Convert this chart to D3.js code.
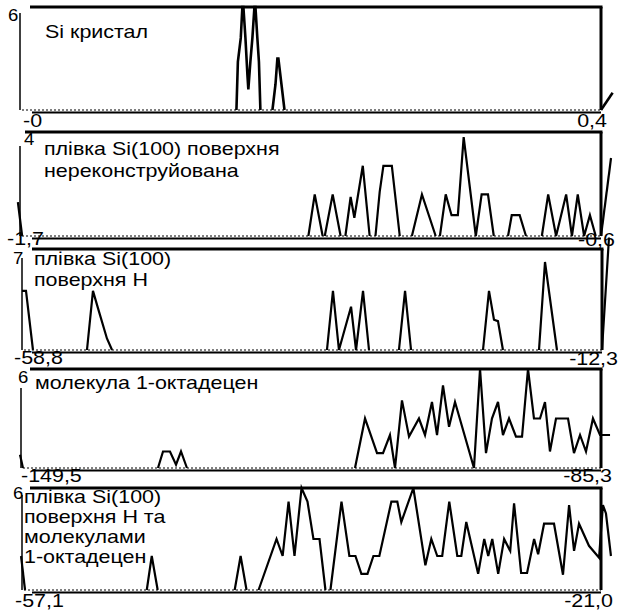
<!DOCTYPE html>
<html>
<head>
<meta charset="utf-8">
<script src="https://cdn.jsdelivr.net/npm/d3@7/dist/d3.min.js"></script>
<style>
  body { margin: 0; background: #fff; }
  svg { display: block; }
  text { font-family: "Liberation Sans", Arial, sans-serif; fill: #000; }
</style>
</head>
<body>
<div id="chart"></div>
<script>
// spectra, one [energy, count] list per panel
const siCrystal = [
  [0, 0], [0.149, 0], [0.150, 2.8], [0.152, 4.2], [0.1531, 6], [0.1538, 6], [0.1552, 4.2],
  [0.1566, 2], [0.1572, 1.2], [0.1586, 2.8], [0.160, 4.2], [0.1614, 6], [0.1621, 6],
  [0.1634, 4.2], [0.1645, 2.8], [0.1655, 0], [0.1738, 0], [0.1759, 1.5], [0.1772, 3],
  [0.1779, 3], [0.180, 1.5], [0.1821, 0], [0.4, 0], [0.408, 1.0]
];
const filmBare = [
  [-1.704, 1.3], [-1.696, 0], [-1.154, 0], [-1.142, 1.6], [-1.127, 0], [-1.123, 0],
  [-1.108, 1.6], [-1.093, 0], [-1.084, 0], [-1.074, 1.5], [-1.067, 0.7], [-1.051, 2.7],
  [-1.038, 0], [-1.027, 0], [-1.019, 1.7], [-1.012, 2.7], [-0.996, 2.7], [-0.981, 0],
  [-0.958, 0], [-0.939, 1.6], [-0.913, 0], [-0.905, 0], [-0.894, 1.6], [-0.883, 0.8],
  [-0.871, 0.8], [-0.860, 3.8], [-0.837, 0], [-0.826, 1.6], [-0.814, 1.6], [-0.803, 0],
  [-0.776, 0], [-0.769, 0.8], [-0.754, 0.8], [-0.742, 0], [-0.712, 0], [-0.700, 1.6],
  [-0.685, 0], [-0.666, 1.6], [-0.655, 0], [-0.644, 1.6], [-0.632, 0], [-0.621, 0.8],
  [-0.610, 0], [-0.600, 0], [-0.581, 3.0]
];
const filmH = [
  [-58.8, 4.1], [-58.48, 4.1], [-57.92, 0], [-53.59, 0], [-53.11, 4.1], [-52.71, 2.9],
  [-51.99, 0.8], [-51.58, 0], [-34.35, 0], [-33.87, 4.1], [-33.39, 0], [-32.42, 3.0],
  [-32.02, 0], [-31.46, 4.1], [-30.98, 0], [-28.58, 0], [-28.09, 4.1], [-27.61, 0],
  [-21.84, 0], [-21.36, 4.1], [-20.96, 2.1], [-20.64, 2.0], [-20.24, 0], [-17.35, 0],
  [-16.87, 6.1], [-15.91, 0], [-12.3, 0], [-11.74, 7.8]
];
const octadecene = [
  [-149.61, 0.8], [-149.28, 0], [-134.34, 0], [-133.78, 1.0], [-133.01, 1.0], [-132.34, 0.2],
  [-131.79, 1.0], [-131.13, 0], [-112.53, 0], [-111.42, 3.0], [-110.09, 0.9], [-109.43, 0.9],
  [-108.66, 2.0], [-108.10, 0], [-107.33, 4.1], [-106.55, 1.9], [-105.45, 3.0], [-104.78, 2.0],
  [-104.01, 4.0], [-103.45, 2.0], [-102.79, 5.0], [-102.12, 2.5], [-101.46, 4.0], [-99.36, 0],
  [-98.69, 6.0], [-98.03, 0.9], [-97.37, 3.0], [-96.70, 4.0], [-96.15, 2.0], [-95.48, 3.0],
  [-94.71, 1.9], [-94.04, 1.9], [-93.38, 6.0], [-92.72, 3.0], [-92.05, 3.0], [-91.50, 4.0],
  [-90.95, 1.0], [-90.28, 3.0], [-88.95, 3.0], [-88.29, 0.9], [-87.62, 2.0], [-86.96, 1.0],
  [-86.19, 3.0], [-85.41, 2.0], [-84.30, 2.0]
];
const filmHOctadecene = [
  [-57.16, 2.0], [-56.91, 0], [-49.32, 0], [-49.01, 2.0], [-48.64, 0], [-43.84, 0],
  [-43.47, 2.0], [-43.10, 0], [-42.35, 0], [-41.23, 3.0], [-40.85, 2.0], [-40.48, 5.2],
  [-40.11, 2.0], [-39.67, 6.0], [-39.30, 5.2], [-38.93, 3.0], [-38.55, 3.0], [-38.18, 0],
  [-37.87, 0], [-37.18, 5.2], [-36.69, 2.0], [-36.31, 2.0], [-35.94, 0.95], [-35.56, 0.95],
  [-35.19, 2.0], [-34.82, 2.0], [-34.07, 5.2], [-33.70, 5.2], [-33.45, 4.0], [-32.70, 6.0],
  [-31.95, 1.45], [-31.58, 3.0], [-31.21, 2.0], [-30.90, 2.0], [-30.46, 5.2], [-29.96, 2.0],
  [-29.71, 2.0], [-29.40, 4.0], [-28.66, 0.95], [-28.28, 3.0], [-28.03, 2.0], [-27.78, 3.0],
  [-27.41, 0.95], [-27.04, 3.0], [-26.66, 2.3], [-26.42, 5.1], [-25.98, 1.0], [-25.61, 1.0],
  [-25.17, 3.0], [-24.92, 2.1], [-24.55, 3.9], [-23.93, 3.9], [-23.37, 0.9], [-22.99, 5.0],
  [-22.68, 2.3], [-22.37, 3.9], [-21.75, 2.6], [-21.12, 1.9], [-20.88, 5.0], [-20.69, 4.5],
  [-20.38, 2.0]
];

const series = [siCrystal, filmBare, filmH, octadecene, filmHOctadecene];
const titles = [
  ["Si кристал"],
  ["плівка Si(100) поверхня", "нереконструйована"],
  ["плівка Si(100)", "поверхня Н"],
  ["молекула 1-октадецен"],
  ["плівка Si(100)", "поверхня Н та", "молекулами", "1-октадецен"]
];
const xDomains = [[0, 0.4], [-1.7, -0.6], [-58.8, -12.3], [-149.5, -85.3], [-57.1, -21.0]];
const xLabels = [["-0", "0,4"], ["-1,7", "-0,6"], ["-58,8", "-12,3"], ["-149,5", "-85,3"], ["-57,1", "-21,0"]];
const yMax = [6, 4, 7, 6, 6];

// where each panel sits on the page
const frames = [
  { top: 7,   base: 110, left: 20, right: 601, axisTop: 13,  topFrom: 30, maxAt: [8, 21],   titleAt: [45, 38],  gap: 21, loAt: [23, 127], hiAt: [607, 127] },
  { top: 132, base: 236, left: 20, right: 601, axisTop: 146, topFrom: 25, maxAt: [24, 145], titleAt: [44, 155], gap: 22, loAt: [7, 245],  hiAt: [615, 246] },
  { top: 249, base: 350, left: 22, right: 602, axisTop: 258, topFrom: 32, maxAt: [13, 264], titleAt: [34, 265], gap: 21, loAt: [14, 364], hiAt: [618, 365] },
  { top: 369, base: 468, left: 21, right: 601, axisTop: 388, topFrom: 30, maxAt: [18, 383], titleAt: [35, 389], gap: 21, loAt: [21, 482], hiAt: [612, 482] },
  { top: 488, base: 590, left: 22, right: 601, axisTop: 495, topFrom: 30, maxAt: [13, 499], titleAt: [24, 503], gap: 20, loAt: [15, 607], hiAt: [613, 607] }
];

const svg = d3.select("#chart").append("svg")
  .attr("width", 629)
  .attr("height", 613);

// text is a bit wider than plain Arial in the original
function label(g, str, x, y, size, anchor) {
  g.append("text")
    .attr("transform", `translate(${x},${y}) scale(1.16,1)`)
    .attr("text-anchor", anchor || "start")
    .style("font-size", size + "px")
    .text(str);
}

// split at runs of zeros so the empty stretches stay dotted
function runs(pts) {
  const out = [];
  let cur = [];
  pts.forEach((p, i) => {
    const prev = pts[i - 1];
    if (prev && prev[1] === 0 && p[1] === 0) {
      if (cur.length > 1) out.push(cur);
      cur = [p];
    } else {
      cur.push(p);
    }
  });
  if (cur.length > 1) out.push(cur);
  return out;
}

series.forEach((data, k) => {
  const f = frames[k];
  const g = svg.append("g");

  const x = d3.scaleLinear().domain(xDomains[k]).range([f.left, f.right]);
  const y = d3.scaleLinear().domain([0, yMax[k]]).range([f.base, f.top]);

  // dotted zero line
  g.append("line")
    .attr("x1", f.left + 2).attr("x2", f.right)
    .attr("y1", y(0)).attr("y2", y(0))
    .attr("stroke", "#000").attr("stroke-width", 1)
    .attr("stroke-dasharray", "2,2");

  // frame: heavy top and right, solid bottom, thin left axis
  g.append("line")
    .attr("x1", f.topFrom).attr("x2", f.right + 1.5)
    .attr("y1", y(yMax[k])).attr("y2", y(yMax[k]))
    .attr("stroke", "#000").attr("stroke-width", 3);
  g.append("line")
    .attr("x1", f.right).attr("x2", f.right)
    .attr("y1", y(yMax[k])).attr("y2", y(0))
    .attr("stroke", "#000").attr("stroke-width", 3);
  g.append("line")
    .attr("x1", 32).attr("x2", f.right)
    .attr("y1", y(0) + 2.5).attr("y2", y(0) + 2.5)
    .attr("stroke", "#000").attr("stroke-width", 2);
  g.append("line")
    .attr("x1", f.left).attr("x2", f.left)
    .attr("y1", f.axisTop).attr("y2", y(0))
    .attr("stroke", "#000").attr("stroke-width", 1.5);

  const line = d3.line()
    .x(d => x(d[0]))
    .y(d => y(d[1]));

  runs(data).forEach(r => {
    g.append("path")
      .attr("d", line(r))
      .attr("fill", "none")
      .attr("stroke", "#000")
      .attr("stroke-width", k === 0 ? 2.6 : 2.2)
      .attr("stroke-linejoin", "miter");
  });

  label(g, String(yMax[k]), f.maxAt[0], f.maxAt[1], 16);
  titles[k].forEach((t, i) => label(g, t, f.titleAt[0], f.titleAt[1] + i * f.gap, 18.5));
  label(g, xLabels[k][0], f.loAt[0], f.loAt[1], 18.5);
  label(g, xLabels[k][1], f.hiAt[0], f.hiAt[1], 18.5, "end");
});
</script>
</body>
</html>
